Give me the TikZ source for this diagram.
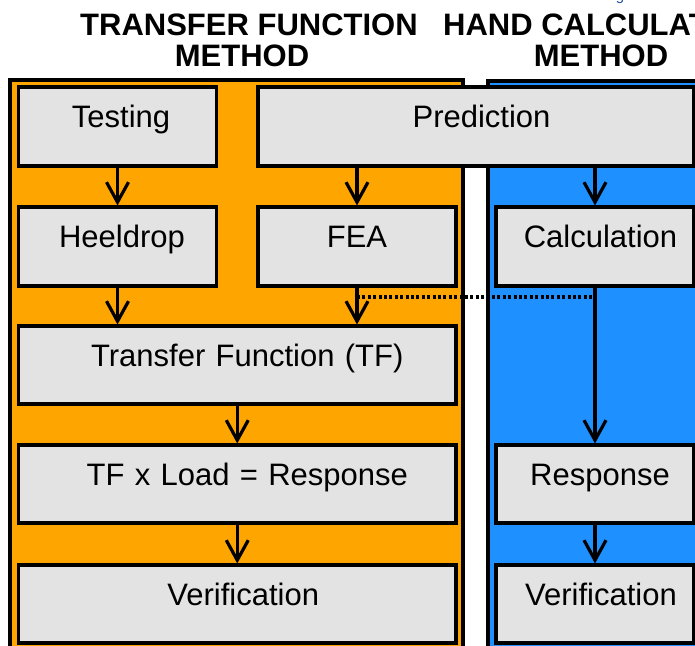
\documentclass[tikz,border=0pt]{standalone}
\usepackage{fontspec}
\setmainfont{Liberation Sans}
\usetikzlibrary{arrows.meta,calc}
\definecolor{panelorange}{RGB}{255,165,0}
\definecolor{panelblue}{RGB}{30,144,255}
\definecolor{boxgray}{RGB}{227,227,227}
\definecolor{topblue}{RGB}{30,80,160}
\begin{document}
\begin{tikzpicture}[x=1pt,y=-1pt,
  panel/.style={draw=black, line width=3.2pt},
  box/.style={draw=black, line width=3.5pt, fill=boxgray, inner sep=0pt, outer sep=0pt,
    anchor=north west, align=center, font=\fontsize{31}{36}\selectfont, text height=40pt},
  title/.style={font=\fontsize{31}{31}\selectfont\bfseries, anchor=base, inner sep=0pt},
  arr/.style={draw=black, line width=3.2pt, -{Straight Barb[length=20pt,width=22pt,line width=3.2pt]}, shorten >=1.5pt},
  dotline/.style={draw=black, line width=3.4pt, dash pattern=on 3pt off 2.4pt}
]
\clip (0,0) rectangle (695,645);
% partial text at the very top (cut off by the edge)
\node[anchor=base, text=topblue, font=\fontsize{15}{15}\selectfont, inner sep=0pt] (topfrag) at (620,0) {g};
% titles
\node[title] (t1a) at (249,35) {TRANSFER FUNCTION};
\node[title] (t1b) at (242,66) {METHOD};
\node[title] (t2a) at (603,35) {HAND CALCULATION};
\node[title] (t2b) at (601,66) {METHOD};
% panels
\path[panel, fill=panelorange] (10,80) rectangle (463,700);
\path[panel, fill=panelblue] (488,81) rectangle (720,700);
% boxes
\node[box, text width=198pt, text depth=39pt] (testing) at (18.5,87) {\hspace*{7pt}Testing};
\node[box, text width=436pt, text depth=39pt] (prediction) at (258,87) {\hspace*{11pt}Prediction};
\node[box, text width=198pt, text depth=39pt] (heeldrop) at (18.5,207) {\hspace*{9pt}Heeldrop};
\node[box, text width=198pt, text depth=39pt] (fea) at (258,207) {FEA};
\node[box, text width=198pt, text depth=39pt] (calc) at (496,207) {\hspace*{11pt}Calculation};
\node[box, text width=437.5pt, text depth=38pt] (tf) at (18.5,326) {\hspace*{20pt}Transfer Function (TF)};
\node[box, text width=437.5pt, text depth=38pt] (tfl) at (18.5,445) {\hspace*{20pt}TF x Load = Response};
\node[box, text width=437.5pt, text depth=38pt] (ver1) at (18.5,565) {\hspace*{12pt}Verification};
\node[box, text width=198pt, text depth=38pt] (resp) at (496,445) {\hspace*{10pt}Response};
\node[box, text width=198pt, text depth=38pt] (ver2) at (496,565) {\hspace*{12pt}Verification};
% connectors
\coordinate (dotL) at ($(fea.south)+(0,11)$);
\coordinate (dotR) at (dotL -| calc.south);
\draw[dotline] (dotL) -- (dotR);
\draw[arr] (testing.south) -- (heeldrop.north);
\draw[arr] (prediction.south -| fea.north) -- (fea.north);
\draw[arr] (prediction.south -| calc.north) -- (calc.north);
\draw[arr] (heeldrop.south) -- (heeldrop.south |- tf.north);
\draw[arr] (fea.south) -- (fea.south |- tf.north);
\draw[arr] (tf.south) -- (tfl.north);
\draw[arr] (tfl.south) -- (ver1.north);
\draw[arr] (calc.south) -- (resp.north);
\draw[arr] (resp.south) -- (ver2.north);
\end{tikzpicture}
\end{document}
